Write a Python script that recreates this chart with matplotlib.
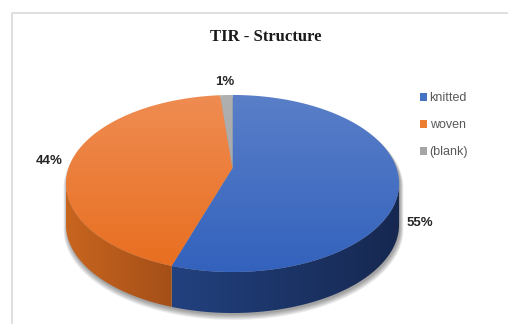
import numpy as np
import matplotlib.pyplot as plt
from matplotlib.patches import Polygon, Patch
from matplotlib.colors import to_rgb

# data
categories = ['knitted', 'woven', '(blank)']
values = [55.0, 43.6, 1.4]
top_colors = ['#4472C4', '#ED7D31', '#A5A5A5']
face_grad = [('#5a7fc8', '#3362bd'), ('#ef8c52', '#e86e1f'), ('#b0b0b0', '#a0a0a0')]
side_colors = [('#22417f', '#162850'), ('#c8651f', '#a44f18'), ('#7d7d7d', '#6a6a6a')]
label_offsets = [(21, 41), (-24, 2), (-2, -13)]
title = 'TIR - Structure'

# 3d pie geometry, in pixel units (perspective ellipse)
cx, cy = 232.5, 168
A, B, K = 164, 85.8, 0.175
depth = 41


def proj(t):
    u = np.sin(t)
    v = -np.cos(t)
    s = 1 - K * v
    return cx + A * u / s, cy + B * v / s


def grad_img(c0, c1, horizontal):
    g = np.linspace(0, 1, 128)
    c0, c1 = np.array(to_rgb(c0)), np.array(to_rgb(c1))
    cols = c0[None, :] * (1 - g[:, None]) + c1[None, :] * g[:, None]
    return cols[None, :, :] if horizontal else cols[:, None, :]


fig = plt.figure(figsize=(5.08, 3.24), dpi=100)
ax = fig.add_axes([0, 0, 1, 1])
ax.set_xlim(0, 508)
ax.set_ylim(324, 0)
ax.axis('off')

# chart frame
ax.plot([12, 12, 508], [324, 13, 13], color='#d9d9d9', lw=1.2, zorder=1)

frac = np.array(values) / np.sum(values)
edges = np.concatenate([[0], np.cumsum(frac)]) * 2 * np.pi

# silhouette on the front
tt = np.linspace(0, 2 * np.pi, 2000)
xx, yy = proj(tt)
t_right = tt[np.argmax(xx)]
t_left = tt[np.argmin(xx)]

# soft shadow
tf = np.linspace(t_right, t_left, 200)
fx, fy = proj(tf)
tb = np.linspace(t_left, t_right + 2 * np.pi, 200)
bx, by = proj(tb)
sil_x = np.concatenate([fx, bx])
sil_y = np.concatenate([fy + depth, by])
for k in range(6):
    sc = 1 + 0.004 * k
    ax.add_patch(Polygon(np.column_stack([cx + (sil_x - cx) * sc + 1, cy + 20 + (sil_y - cy - 20) * sc + 2 + 0.5 * k]),
                         closed=True, facecolor='#000000', edgecolor='none', alpha=0.07, zorder=2))

# side walls
for i in range(len(values)):
    a0, a1 = max(edges[i], t_right), min(edges[i + 1], t_left)
    if a1 <= a0:
        continue
    ts = np.linspace(a0, a1, 200)
    px, py = proj(ts)
    pts = np.vstack([np.column_stack([px, py]), np.column_stack([px, py + depth])[::-1]])
    wall = Polygon(pts, closed=True, facecolor='none', edgecolor='none', zorder=3)
    ax.add_patch(wall)
    c0, c1 = side_colors[i]
    im = ax.imshow(grad_img(c0, c1, True), extent=(px.min(), px.max(), py.max() + depth, py.min()),
                   origin='upper', aspect='auto', interpolation='bilinear', zorder=3)
    im.set_clip_path(wall)

# top faces with a soft vertical gradient
ytop, ybot = yy.min(), yy.max()
for i in range(len(values)):
    ts = np.linspace(edges[i], edges[i + 1], 200)
    px, py = proj(ts)
    pts = np.vstack([[cx, cy], np.column_stack([px, py])])
    poly = Polygon(pts, closed=True, facecolor='none', edgecolor='none', zorder=4)
    ax.add_patch(poly)
    c0, c1 = face_grad[i]
    im = ax.imshow(grad_img(c0, c1, False), extent=(xx.min(), xx.max(), ybot, ytop), origin='upper',
                   aspect='auto', interpolation='bilinear', zorder=4)
    im.set_clip_path(poly)

# data labels
for i in range(len(values)):
    mid = (edges[i] + edges[i + 1]) / 2
    mx, my = proj(mid)
    dx, dy = label_offsets[i]
    ax.text(mx + dx, my + dy, '{:.0f}%'.format(frac[i] * 100), ha='center', va='center',
            fontsize=9.5, fontweight='bold', family='Liberation Sans', color='#262626', zorder=6)

ax.set_xlim(0, 508)
ax.set_ylim(324, 0)

ax.text(266, 37, title, ha='center', va='center', fontsize=12, fontweight='bold',
        family='Liberation Serif', color='#1a1a1a')

handles = [Patch(facecolor=c, edgecolor='none') for c in top_colors]
leg = ax.legend(handles, categories, loc='upper left', bbox_to_anchor=(414, 86), bbox_transform=ax.transData,
                frameon=False, labelcolor='#595959', handlelength=0.55, handleheight=0.55,
                handletextpad=0.2, labelspacing=1.2, borderpad=0, prop={'family': 'Liberation Sans', 'size': 9})

fig.savefig('out.png', dpi=100)
